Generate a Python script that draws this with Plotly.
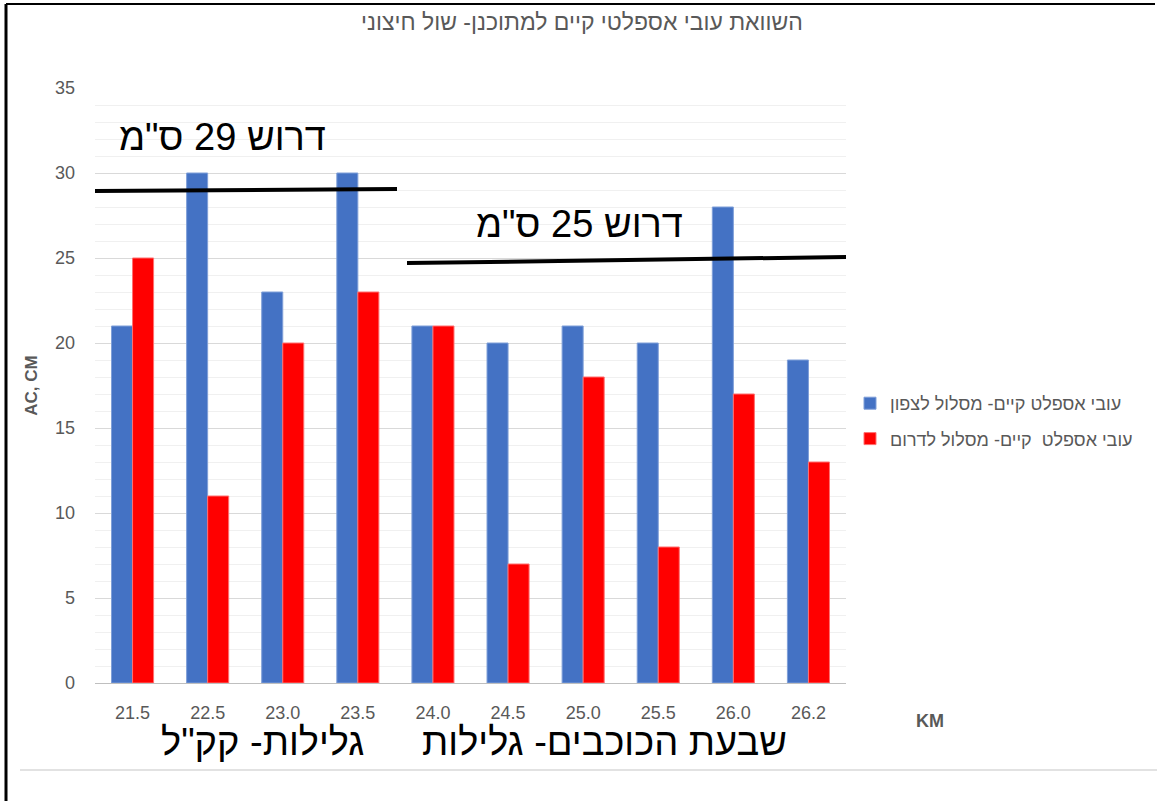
import plotly.graph_objects as go

# Chainage (km) along the road
km_labels = ["21.5", "22.5", "23.0", "23.5", "24.0", "24.5", "25.0", "25.5", "26.0", "26.2"]
# Existing asphalt thickness (cm) per carriageway
north_cm = [21, 30, 23, 30, 21, 20, 21, 20, 28, 19]
south_cm = [25, 11, 20, 23, 21, 7, 18, 8, 17, 13]
# Required thickness (cm) for each road section
required_first = 29
required_second = 25

W, H = 1157, 801
L, R, T, B = 95, 311, 88, 118
plot_w = W - L - R
ph = H - T - B


def px_x(px):
    return (px - L) / plot_w


def py(px):
    return 1 - (px - T) / ph


fig = go.Figure()
fig.add_trace(go.Bar(
    x=km_labels, y=north_cm, name="עובי אספלט קיים- מסלול לצפון", legendgroup="n",
    marker=dict(color="#4472C4", line=dict(color="#7f9fd8", width=1)),
))
fig.add_trace(go.Bar(
    x=km_labels, y=south_cm, name="עובי אספלט  קיים- מסלול לדרום", legendgroup="s",
    marker=dict(color="#FF0000", line=dict(color="#ff7070", width=1)),
))

# Requirement lines
fig.add_shape(type="line", xref="paper", yref="y",
              x0=px_x(95), x1=px_x(397), y0=required_first - 0.06, y1=required_first + 0.06,
              line=dict(color="black", width=4))
fig.add_shape(type="line", xref="paper", yref="y",
              x0=px_x(407), x1=px_x(846), y0=required_second - 0.3, y1=required_second + 0.06,
              line=dict(color="black", width=4))

# Outer frame
fig.add_shape(type="line", xref="paper", yref="paper",
              x0=px_x(6), x1=px_x(1155), y0=py(4), y1=py(4),
              line=dict(color="black", width=2))
fig.add_shape(type="line", xref="paper", yref="paper",
              x0=px_x(6), x1=px_x(6), y0=py(4), y1=py(806),
              line=dict(color="black", width=3))
fig.add_shape(type="line", xref="paper", yref="paper",
              x0=px_x(20), x1=px_x(1157), y0=py(770), y1=py(770),
              line=dict(color="#d9d9d9", width=1.5))


def label(text, cx, cy, size, color="black"):
    fig.add_annotation(text=text, xref="paper", yref="paper",
                       x=px_x(cx), y=py(cy), xanchor="center", yanchor="middle",
                       showarrow=False,
                       font=dict(family="Arial", size=size, color=color))


label(f"דרוש {required_first} ס\"מ", 222, 137, 38)
label(f"דרוש {required_second} ס\"מ", 579, 224, 38)
label("גלילות- קק\"ל", 262, 742, 38)
label("שבעת הכוכבים- גלילות", 604, 742, 38)
label("<b>KM</b>", 930, 721, 18, "#595959")

fig.update_layout(
    width=W, height=H,
    margin=dict(l=L, r=R, t=T, b=B),
    paper_bgcolor="white", plot_bgcolor="white",
    barmode="group", bargap=0.44, bargroupgap=0,
    title=dict(text="השוואת עובי אספלטי קיים למתוכנן- שול חיצוני",
               x=582 / W, xref="container", xanchor="center", y=1 - 22 / H, yanchor="middle",
               font=dict(family="Arial", size=23, color="#595959")),
    legend=dict(x=px_x(850), y=py(385), xanchor="left", yanchor="top",
                font=dict(family="Arial", size=18, color="#595959"),
                itemwidth=30, tracegroupgap=9),
    showlegend=True,
)
fig.update_xaxes(type="category", showgrid=False, showline=True, linecolor="#bfbfbf",
                 linewidth=1, ticks="", tickfont=dict(family="Arial", size=18, color="#595959"),
                 ticklabelstandoff=13)
fig.update_yaxes(range=[0, 35], dtick=5, showgrid=True, gridcolor="#d9d9d9", gridwidth=1,
                 minor=dict(dtick=1, showgrid=True, gridcolor="#f0f0f0", gridwidth=1),
                 zeroline=False, showline=False,
                 tickfont=dict(family="Arial", size=18, color="#595959"),
                 ticklabelstandoff=19,
                 title=dict(text="<b>AC, CM</b>", font=dict(family="Arial", size=17, color="#595959"),
                            standoff=13))

fig.write_html("out.html")
